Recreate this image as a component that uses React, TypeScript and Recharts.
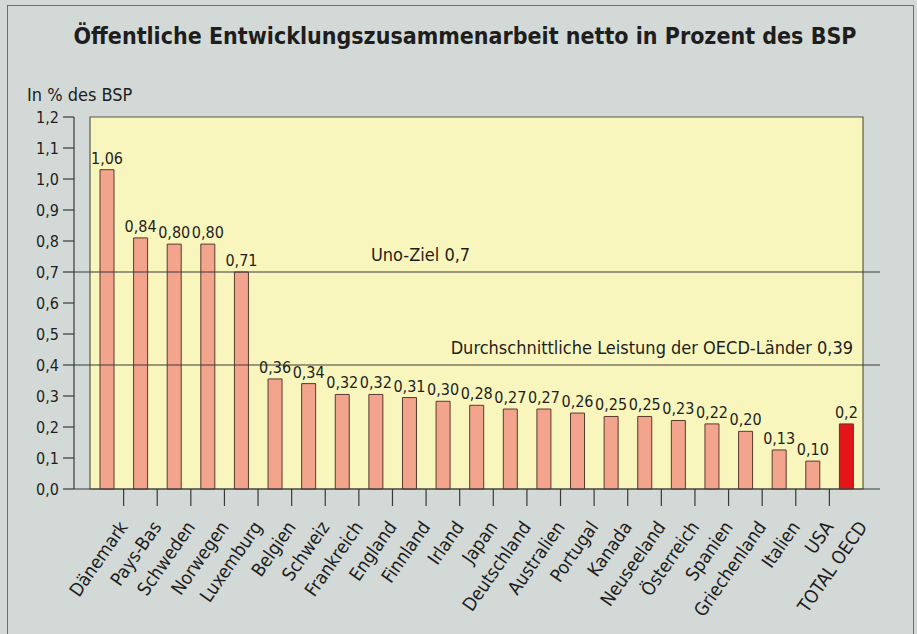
import React from 'react';
import {
  BarChart,
  Bar,
  XAxis,
  YAxis,
  ReferenceLine,
  ReferenceArea,
  LabelList,
  Cell,
} from 'recharts';

// Länder in der Reihenfolge der Grafik
const countries = [
  'Dänemark', 'Pays-Bas', 'Schweden', 'Norwegen', 'Luxemburg', 'Belgien', 'Schweiz',
  'Frankreich', 'England', 'Finnland', 'Irland', 'Japan', 'Deutschland', 'Australien',
  'Portugal', 'Kanada', 'Neuseeland', 'Österreich', 'Spanien', 'Griechenland',
  'Italien', 'USA', 'TOTAL OECD',
];

// Balkenhöhen, wie sie gezeichnet sind (in % des BSP)
const barHeights = [
  1.03, 0.81, 0.79, 0.79, 0.70, 0.355, 0.34, 0.305, 0.305, 0.295, 0.283, 0.27,
  0.258, 0.258, 0.245, 0.234, 0.234, 0.221, 0.21, 0.186, 0.126, 0.09, 0.21,
];

// Beschriftung über den Balken
const printedValues = [
  '1,06', '0,84', '0,80', '0,80', '0,71', '0,36', '0,34', '0,32', '0,32', '0,31', '0,30',
  '0,28', '0,27', '0,27', '0,26', '0,25', '0,25', '0,23', '0,22', '0,20', '0,13', '0,10', '0,2',
];

const yTicks = [0, 0.1, 0.2, 0.3, 0.4, 0.5, 0.6, 0.7, 0.8, 0.9, 1.0, 1.1, 1.2];

const unoTarget = { value: 0.7, text: 'Uno-Ziel 0,7' };
const oecdAverage = { value: 0.4, text: 'Durchschnittliche Leistung der OECD-Länder 0,39' };

const data = countries.map((name, i) => ({
  name,
  value: barHeights[i],
  label: printedValues[i],
}));

const FONT = "'Liberation Sans Narrow', 'DejaVu Sans Condensed', 'Open Sans', sans-serif";
const INK = '#1e1e1e';

// layout
const W = 917;
const H = 634;
const PLOT_LEFT = 74;
const PLOT_RIGHT = 880;
const PLOT_TOP = 117;
const PLOT_BOTTOM = 489;
const Y_AXIS_W = 66;
const X_AXIS_H = 130;
const PAD_L = 16;
const PAD_R = 17;
const BAND = (PLOT_RIGHT - PLOT_LEFT - PAD_L - PAD_R) / countries.length;

const CountryTick = ({ x, y, payload, index }: any) => {
  const bx = x + BAND / 2;
  const last = index === countries.length - 1;
  return (
    <g>
      {!last && <line x1={bx} y1={y} x2={bx} y2={y + 17} stroke="#3a3a3a" strokeWidth={1.2} />}
      <text
        transform={`translate(${bx + 5},${y + 38}) rotate(-55)`}
        textAnchor="end"
        fontFamily={FONT}
        fontSize={18.5}
        fill={INK}
      >
        {payload.value}
      </text>
    </g>
  );
};

const lineLabel = (text: string, frac: number, anchor: 'middle' | 'end') => (props: any) => {
  const vb = props.viewBox || {};
  const x = anchor === 'end' ? vb.x + vb.width - 27 : vb.x + vb.width * frac;
  return (
    <text x={x} y={vb.y - 11} textAnchor={anchor} fontFamily={FONT} fontSize={18} fill={INK}>
      {text}
    </text>
  );
};

export default function App() {
  return (
    <div
      style={{
        position: 'absolute',
        left: 0,
        top: 0,
        width: W,
        height: H,
        background: '#d3d9d7',
        overflow: 'hidden',
        fontFamily: FONT,
      }}
    >
      <div
        style={{
          position: 'absolute',
          left: 7,
          top: 5,
          width: 905,
          height: H,
          border: '1.5px solid #6b706d',
        }}
      />
      <div
        style={{
          position: 'absolute',
          left: 0,
          width: 930,
          top: 23,
          textAlign: 'center',
          fontSize: 23,
          fontWeight: 'bold',
          color: INK,
        }}
      >
        Öffentliche Entwicklungszusammenarbeit netto in Prozent des BSP
      </div>
      <div style={{ position: 'absolute', left: 27, top: 84, fontSize: 18, color: INK }}>
        In % des BSP
      </div>
      <div style={{ position: 'absolute', left: 0, top: 0 }}>
        <BarChart
          width={W}
          height={H}
          data={data}
          margin={{
            top: PLOT_TOP,
            right: W - PLOT_RIGHT,
            bottom: H - PLOT_BOTTOM - X_AXIS_H,
            left: PLOT_LEFT - Y_AXIS_W,
          }}
          barSize={14}
        >
          <ReferenceArea y1={0} y2={1.2} fill="#f8f6bc" fillOpacity={1} stroke="#5b5b4a" strokeWidth={1.2} />
          <XAxis
            dataKey="name"
            interval={0}
            height={X_AXIS_H}
            padding={{ left: PAD_L, right: PAD_R }}
            tickLine={false}
            tickSize={0}
            tickMargin={0}
            axisLine={{ stroke: '#3a3a3a', strokeWidth: 1.2 }}
            tick={<CountryTick />}
          />
          <YAxis
            width={Y_AXIS_W}
            domain={[0, 1.2]}
            ticks={yTicks}
            interval={0}
            tickSize={11}
            tickMargin={4}
            tickLine={{ stroke: '#3a3a3a', strokeWidth: 1.2 }}
            axisLine={{ stroke: '#3a3a3a', strokeWidth: 1.2 }}
            tickFormatter={(v: number) => v.toFixed(1).replace('.', ',')}
            tick={{ fontFamily: FONT, fontSize: 16, fill: INK }}
          />
          <ReferenceLine
            y={unoTarget.value}
            stroke="#3a3a3a"
            strokeWidth={1.2}
            label={lineLabel(unoTarget.text, 0.43, 'middle')}
          />
          <ReferenceLine
            y={oecdAverage.value}
            stroke="#3a3a3a"
            strokeWidth={1.2}
            label={lineLabel(oecdAverage.text, 0, 'end')}
          />
          <Bar dataKey="value" fill="#f2a48c" stroke="#5a3a30" strokeWidth={1} isAnimationActive={false}>
            {data.map((d, i) => (
              <Cell key={d.name} fill={i === data.length - 1 ? '#e3151a' : '#f2a48c'} />
            ))}
            <LabelList
              dataKey="label"
              position="top"
              offset={6}
              style={{ fontFamily: FONT, fontSize: 16, fill: INK }}
            />
          </Bar>
        </BarChart>
      </div>
    </div>
  );
}
